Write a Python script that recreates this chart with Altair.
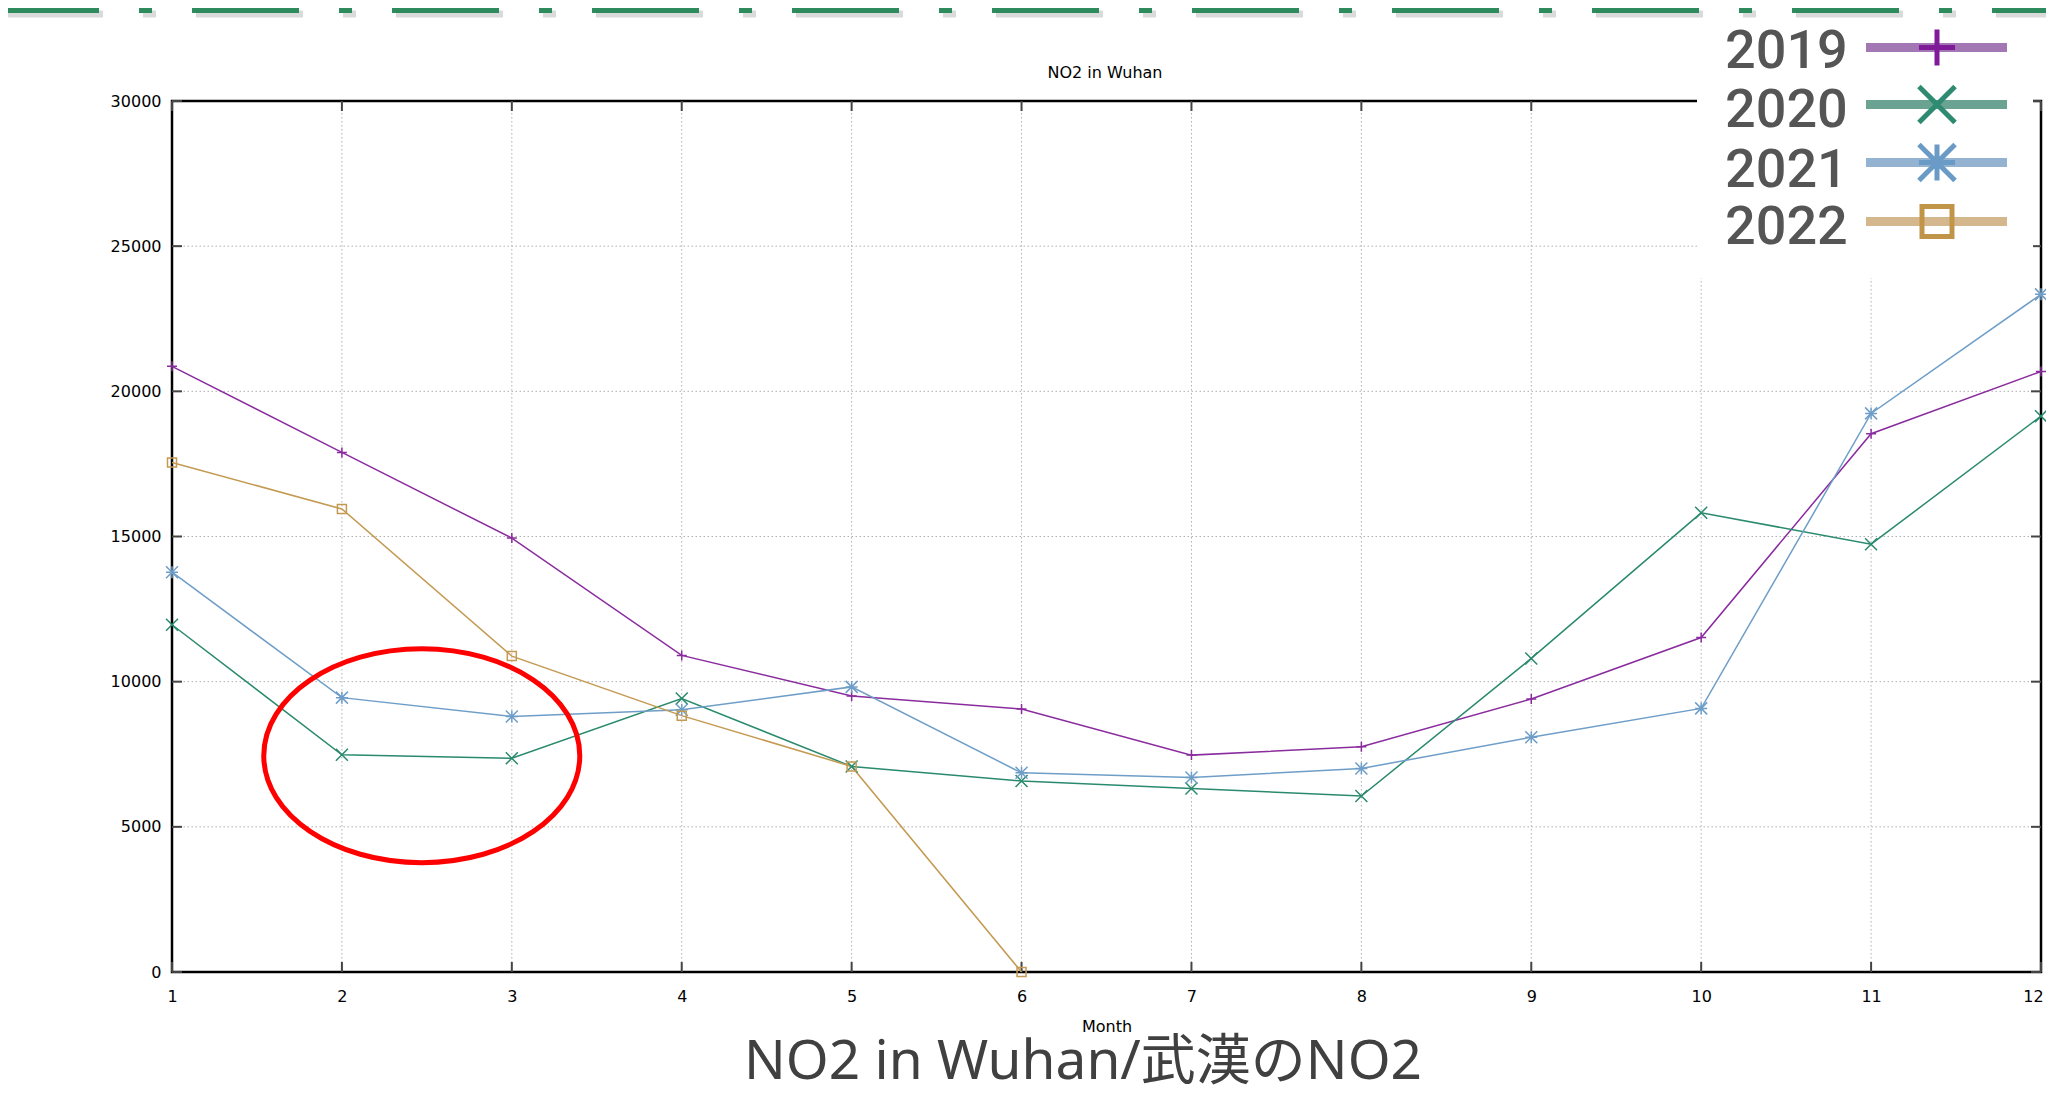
import altair as alt
import pandas as pd

# ---------------- data ----------------
months = list(range(1, 13))
years = ["2019", "2020", "2021", "2022"]
no2_2019 = [20860, 17895, 14945, 10905, 9505, 9060, 7470, 7760, 9405, 11520, 18540, 20685]
no2_2020 = [11960, 7480, 7360, 9420, 7080, 6580, 6320, 6060, 10800, 15815, 14735, 19145]
no2_2021 = [13770, 9450, 8800, 9030, 9820, 6860, 6700, 7010, 8085, 9080, 19240, 23340]
no2_2022 = [17550, 15950, 10880, 8830, 7080, 0]
y_ticks = [0, 5000, 10000, 15000, 20000, 25000, 30000]
x_ticks = months
grid_months = [2, 3, 4, 5, 6, 7, 8, 9, 10, 11]
grid_values = [5000, 10000, 15000, 20000, 25000]
title_text = "NO2 in Wuhan"
caption_text = "NO2 in Wuhan/武漢のNO2"
x_title = "Month"
highlight_month = [2.47]
highlight_value = [7450]

series = {"2019": no2_2019, "2020": no2_2020, "2021": no2_2021, "2022": no2_2022}
rows = []
for yr, vals in series.items():
    for m, v in zip(months, vals):
        rows.append({"year": yr, "month": m, "value": v})
df = pd.DataFrame(rows)

# ---------------- styles ----------------
W, H = 1869, 871
line_colors = ["#8a2c9e", "#2a8a6e", "#6e9ec8", "#c49a52"]
legend_line_colors = ["#a277b3", "#6ba393", "#93b3d1", "#d4b78c"]
legend_mark_colors = ["#7f1a98", "#2f8a72", "#6a9ac6", "#c09548"]
PLUS = "M-1,0L1,0M0,-1L0,1"
XMARK = "M-1,-1L1,1M-1,1L1,-1"
STAR = "M-1,0L1,0M0,-1L0,1M-1,-1L1,1M-1,1L1,-1"
shapes = [PLUS, XMARK, STAR, "square"]
point_sizes = [100, 144, 144, 81]
legend_sizes = [1300, 1300, 1300, 900]
ELLIPSE = "M-1,0A1,0.677,0,1,0,1,0A1,0.677,0,1,0,-1,0Z"

xs = alt.Scale(domain=[1, 12], nice=False, zero=False)
ys = alt.Scale(domain=[0, 30000], nice=False, zero=True)
xaxis = alt.Axis(values=x_ticks, ticks=False, domain=False, grid=False,
                 labelPadding=16, labelFontSize=16, labelFont="DejaVu Sans",
                 labelColor="#000", labelFlush=False, labelOverlap=False,
                 labelOffset={"condition": {"test": "datum.value == 12", "value": -8}, "value": 0},
                 title=x_title, titleFont="DejaVu Sans", titleFontSize=16,
                 titleFontWeight="normal", titleColor="#000", titlePadding=14,
                 format="d")
yaxis = alt.Axis(values=y_ticks, ticks=False, domain=False, grid=False,
                 labelPadding=11, labelFontSize=16, labelFont="DejaVu Sans",
                 labelColor="#000", labelFlush=False, labelOverlap=False,
                 title=None, format="d")
xenc = alt.X("month:Q", scale=xs, axis=xaxis)
yenc = alt.Y("value:Q", scale=ys, axis=yaxis)

layers = []

# grid
gx = pd.DataFrame({"month": grid_months})
gy = pd.DataFrame({"value": grid_values})
layers.append(alt.Chart(gx).mark_rule(color="#b0b0b0", strokeWidth=1, strokeDash=[1.5, 2.5]).encode(x=xenc))
layers.append(alt.Chart(gy).mark_rule(color="#b0b0b0", strokeWidth=1, strokeDash=[1.5, 2.5]).encode(y=yenc))

# ticks (inward, mirrored)
tx = pd.DataFrame({"month": x_ticks})
ty = pd.DataFrame({"value": y_ticks})
tick_style = dict(color="#444", strokeWidth=2)
layers.append(alt.Chart(tx).mark_rule(**tick_style).encode(x=xenc, y=alt.value(H), y2=alt.value(H - 10)))
layers.append(alt.Chart(tx).mark_rule(**tick_style).encode(x=xenc, y=alt.value(0), y2=alt.value(10)))
layers.append(alt.Chart(ty).mark_rule(**tick_style).encode(y=yenc, x=alt.value(0), x2=alt.value(10)))
layers.append(alt.Chart(ty).mark_rule(**tick_style).encode(y=yenc, x=alt.value(W), x2=alt.value(W - 10)))

# data lines
layers.append(alt.Chart(df).mark_line(strokeWidth=1.5).encode(
    x=xenc, y=yenc,
    color=alt.Color("year:N", scale=alt.Scale(domain=years, range=line_colors), legend=None)))

# data points
for i, yr in enumerate(years):
    layers.append(alt.Chart(df[df.year == yr]).mark_point(
        shape=shapes[i], size=point_sizes[i], filled=False, color=line_colors[i],
        strokeWidth=1.5, opacity=1).encode(x=xenc, y=yenc))

# red ellipse annotation
edf = pd.DataFrame({"month": highlight_month, "value": highlight_value})
layers.append(alt.Chart(edf).mark_point(shape=ELLIPSE, size=99856, filled=False,
                                        color="#ff0000", strokeWidth=5, opacity=1).encode(x=xenc, y=yenc))

# legend box
one = pd.DataFrame({"k": [0]})
layers.append(alt.Chart(one).mark_rect(color="#ffffff").encode(
    x=alt.value(1525), x2=alt.value(1861), y=alt.value(-93), y2=alt.value(177)))

leg_line_y = [-53.5, 3.5, 61.5, 120.5]
leg_text_y = [-33.5, 25.5, 85.5, 142.5]
for i, yr in enumerate(years):
    d = pd.DataFrame({"label": [yr]})
    layers.append(alt.Chart(d).mark_text(align="left", baseline="alphabetic", font="Roboto",
                                         fontSize=54, fontWeight=500, color="#555555").encode(
        text="label:N", x=alt.value(1553), y=alt.value(leg_text_y[i])))
    layers.append(alt.Chart(d).mark_rule(color=legend_line_colors[i], strokeWidth=9).encode(
        x=alt.value(1694), x2=alt.value(1835), y=alt.value(leg_line_y[i])))
    layers.append(alt.Chart(d).mark_point(shape=shapes[i], size=legend_sizes[i], filled=False,
                                          color=legend_mark_colors[i], strokeWidth=5, opacity=1).encode(
        x=alt.value(1765), y=alt.value(leg_line_y[i])))

# chart title
td = pd.DataFrame({"label": [title_text]})
layers.append(alt.Chart(td).mark_text(align="center", baseline="alphabetic", font="DejaVu Sans",
                                      fontSize=16, color="#000").encode(
    text="label:N", x=alt.value(933), y=alt.value(-23)))

# caption below
cd = pd.DataFrame({"label": [caption_text]})
layers.append(alt.Chart(cd).mark_text(align="center", baseline="alphabetic",
                                      font="Noto Sans, Noto Sans CJK JP",
                                      fontSize=55, color="#404040").encode(
    text="label:N", x=alt.value(911), y=alt.value(978)))

# decorative dash-dot band at the top
bd = pd.DataFrame({"k": [0]})
layers.append(alt.Chart(bd).mark_rule(color="#555555", opacity=0.22, strokeWidth=7,
                                      strokeDash=[107, 40, 13, 40], strokeDashOffset=12).encode(
    x=alt.value(-164), x2=alt.value(W + 5), y=alt.value(-93 + 6)))
layers.append(alt.Chart(bd).mark_rule(color="#2e8b5e", strokeWidth=5,
                                      strokeDash=[107, 40, 13, 40], strokeDashOffset=16).encode(
    x=alt.value(-164), x2=alt.value(W + 5), y=alt.value(-93 + 2.5)))

chart = alt.layer(*layers).properties(
    width=W, height=H,
    autosize=alt.AutoSizeParams(type="none"),
    padding={"left": 164, "top": 93, "right": 5, "bottom": 116},
    background="#ffffff",
).configure_view(stroke="#000000", strokeWidth=2.5)

chart.save("out.html", embed_options={"renderer": "svg", "actions": False})
